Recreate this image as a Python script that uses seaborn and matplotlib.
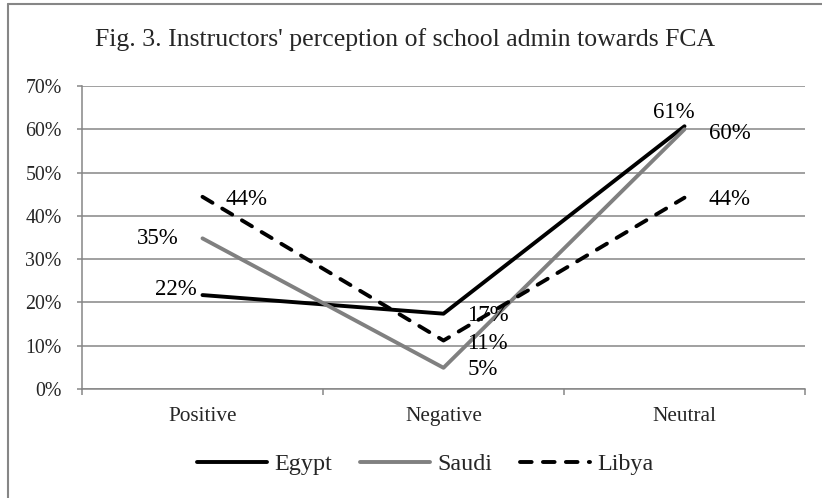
import numpy as np
import pandas as pd
import matplotlib
matplotlib.use("Agg")
import matplotlib.pyplot as plt
from matplotlib.lines import Line2D
import seaborn as sns

categories = ["Positive", "Negative", "Neutral"]
egypt = [21.7, 17.4, 60.7]
saudi = [34.8, 4.9, 60.0]
libya = [44.4, 11.2, 44.2]
egypt_labels = ["22%", "17%", "61%"]
saudi_labels = ["35%", "5%", "60%"]
libya_labels = ["44%", "11%", "44%"]
yticks = [0, 10, 20, 30, 40, 50, 60, 70]
title = "Fig. 3. Instructors' perception of school admin towards FCA"

sns.set_theme(style="white")
plt.rcParams["font.family"] = ["Liberation Serif", "DejaVu Serif"]

W, H = 822, 498
fig = plt.figure(figsize=(W / 100, H / 100), dpi=100)
ax = fig.add_axes([82 / W, 1 - 389 / H, (805 - 82) / W, (389 - 86) / H])

GRID = "#868686"
x = np.arange(len(categories))
series = [
    ("Egypt", egypt, egypt_labels, "black", "-"),
    ("Saudi", saudi, saudi_labels, "#808080", "-"),
    ("Libya", libya, libya_labels, "black", (0, (3.0, 2.9))),
]
df = pd.concat(
    [pd.DataFrame({"x": x, "value": v, "country": n}) for n, v, _, _, _ in series]
)
for name, vals, labs, col, ls in series:
    sub = df[df["country"] == name]
    sns.lineplot(data=sub, x="x", y="value", ax=ax, color=col, lw=2.8,
                 linestyle=ls, label=name, sort=False)
for line in ax.get_lines():
    line.set_solid_capstyle("round")
    line.set_dash_capstyle("round")
    line.set_solid_joinstyle("round")
    line.set_dash_joinstyle("round")

# data labels (offsets in pixels, up positive)
offsets = {
    "Egypt": [(-6, 6, "right"), (24, -2, "left"), (-11, 14, "center")],
    "Saudi": [(-24, 0, "right"), (24, -2, "left"), (24, -4, "left")],
    "Libya": [(23, -3, "left"), (24, -3, "left"), (24, -2, "left")],
}
for name, vals, labs, col, ls in series:
    for i, (v, t) in enumerate(zip(vals, labs)):
        dx, dy, ha = offsets[name][i]
        ax.annotate(t, (x[i], v), xytext=(dx, dy), textcoords="offset pixels",
                    ha=ha, va="center", fontsize=16.5, color="black")

ax.set_xlim(-0.5, len(categories) - 0.5)
ax.set_ylim(0, 70)
ax.set_yticks(yticks)
ax.set_yticklabels([f"{t}%" for t in yticks])
ax.set_xticks(np.arange(len(categories) + 1) - 0.5)
ax.set_xticklabels([])
ax.set_xticks(x, minor=True)
ax.set_xticklabels(categories, minor=True)
ax.tick_params(axis="x", which="major", length=4.5, width=1.1, color=GRID, direction="out", bottom=True)
ax.tick_params(axis="x", which="minor", length=0, pad=13, labelsize=15.3)
ax.tick_params(axis="y", which="major", length=3.6, width=1.1, color=GRID, direction="out", left=True, pad=11, labelsize=14.3)
ax.set_xlabel("")
ax.set_ylabel("")
ax.yaxis.grid(True, color=GRID, lw=1.1)
ax.set_axisbelow(True)
for s in ["top", "right"]:
    ax.spines[s].set_visible(False)
for s in ["left", "bottom"]:
    ax.spines[s].set_color(GRID)
    ax.spines[s].set_linewidth(1.1)

ax.get_legend().remove()
handles, labels = ax.get_legend_handles_labels()
fig.legend(handles, labels, loc="center", bbox_to_anchor=(425 / W, 1 - 464 / H),
           ncol=3, frameon=False, fontsize=17.4, handlelength=2.9,
           handletextpad=0.3, columnspacing=1.15)

fig.text(405 / W, 1 - 40 / H, title, ha="center", va="center", fontsize=18.5)

# outer border (left and top visible)
fig.add_artist(Line2D([8 / W, 8 / W], [0, 1 - 4 / H], transform=fig.transFigure,
                      color=GRID, lw=1.5))
fig.add_artist(Line2D([8 / W, 1], [1 - 4 / H, 1 - 4 / H], transform=fig.transFigure,
                      color=GRID, lw=1.5))

fig.savefig("out.png", dpi=100)
